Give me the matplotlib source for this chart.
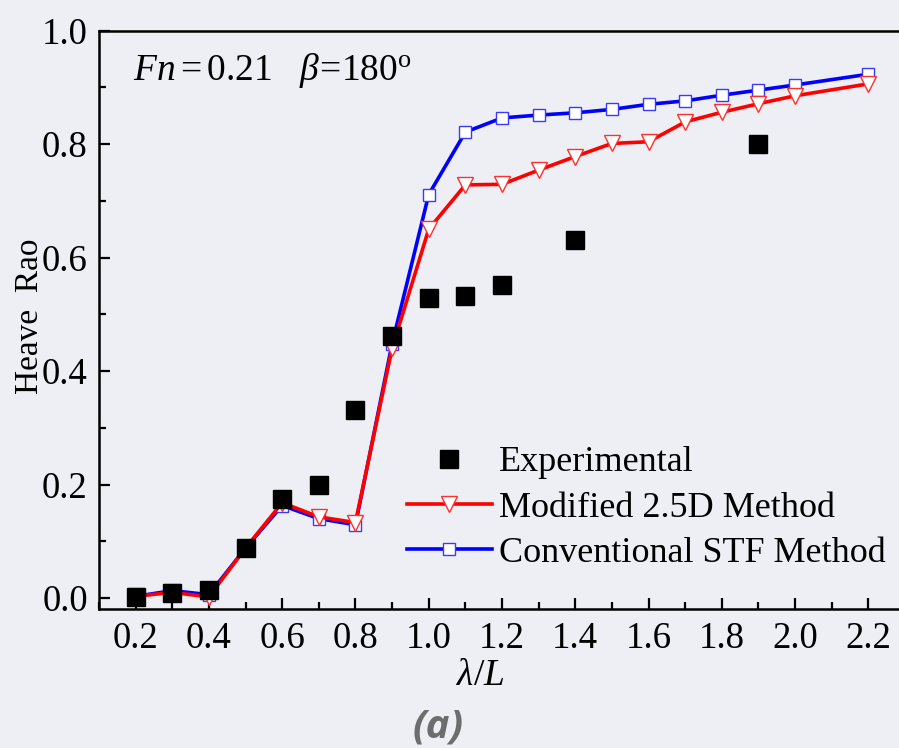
import matplotlib.pyplot as plt
from matplotlib.ticker import MultipleLocator

plt.rcParams['font.family'] = ['Liberation Serif', 'DejaVu Serif']
plt.rcParams['mathtext.fontset'] = 'custom'
plt.rcParams['mathtext.rm'] = 'Liberation Serif'
plt.rcParams['mathtext.it'] = 'Liberation Serif:italic'

# experimental points
x_exp = [0.2, 0.3, 0.4, 0.5, 0.6, 0.7, 0.8, 0.9, 1.0, 1.1, 1.2, 1.4, 1.9]
y_exp = [0.002, 0.009, 0.014, 0.088, 0.174, 0.199, 0.331, 0.462, 0.529, 0.532, 0.551, 0.631, 0.800]

# computed curves
x_calc = [0.2, 0.3, 0.4, 0.5, 0.6, 0.7, 0.8, 0.9, 1.0, 1.1, 1.2, 1.3, 1.4, 1.5, 1.6, 1.7, 1.8, 1.9, 2.0, 2.2]
y_mod = [0.003, 0.010, 0.002, 0.088, 0.168, 0.143, 0.133, 0.440, 0.650, 0.728, 0.729, 0.754, 0.778,
         0.801, 0.804, 0.839, 0.856, 0.871, 0.885, 0.906]
y_stf = [0.003, 0.013, 0.006, 0.088, 0.163, 0.140, 0.129, 0.448, 0.711, 0.821, 0.846, 0.851, 0.855,
         0.861, 0.870, 0.876, 0.886, 0.895, 0.904, 0.923]

bg = '#eeeff4'
fig = plt.figure(figsize=(8.99, 7.48), dpi=100, facecolor=bg)
ax = fig.add_axes([0.1101, 0.1853, 0.8966, 0.7739], facecolor=bg)

l_stf, = ax.plot(x_calc, y_stf, color='#0000ff', lw=2.6, marker='s', ms=8.5,
                 mfc='white', mec='#3a3aff', mew=1.0, label='Conventional STF Method', zorder=3)
l_mod, = ax.plot(x_calc, y_mod, color='#ff0000', lw=2.6, marker='v', ms=12,
                 mfc='white', mec='#ff3030', mew=1.0, label='Modified 2.5D Method', zorder=4)
l_exp, = ax.plot(x_exp, y_exp, ls='none', marker='s', ms=13.5, color='black',
                 label='Experimental', zorder=5)

ax.set_xlim(0.1, 2.3)
ax.set_ylim(-0.02, 1.0)
ax.xaxis.set_minor_locator(MultipleLocator(0.1))
ax.yaxis.set_minor_locator(MultipleLocator(0.1))
ax.set_xticks([0.2, 0.4, 0.6, 0.8, 1.0, 1.2, 1.4, 1.6, 1.8, 2.0, 2.2])
ax.set_yticks([0.0, 0.2, 0.4, 0.6, 0.8, 1.0])
ax.tick_params(which='both', direction='in', top=False, right=False, width=1.6,
               labelsize=26.5, colors='black')
ax.tick_params(axis='x', which='major', length=8, pad=9)
ax.tick_params(axis='y', which='major', length=8, pad=8)
ax.tick_params(which='minor', length=5)
for s in ax.spines.values():
    s.set_linewidth(1.8)

ax.set_xlabel(r'$\lambda/L$', fontsize=27)
ax.xaxis.label.set_va('center')
ax.xaxis.set_label_coords(0.4727, -0.115)
ax.set_ylabel('Heave  Rao', fontsize=24)
ax.yaxis.label.set_va('center')
ax.yaxis.set_label_coords(-0.0856, 0.507)

ax.text(0.0425, 0.914, r'$Fn = \mathrm{0.21}\quad \beta\!=\!\mathrm{180^o}$', transform=ax.transAxes,
        fontsize=27, va='baseline', ha='left')

ax.legend(handles=[l_exp, l_mod, l_stf], loc='center left',
          bbox_to_anchor=(407 / 899, 1 - 508 / 748), bbox_transform=fig.transFigure,
          frameon=False, fontsize=26, handlelength=2.35, handletextpad=0.2,
          labelspacing=0.33, borderpad=0, borderaxespad=0)

fig.text(438 / 899, 1 - 727 / 748, '(a)', fontfamily='Open Sans', fontweight='bold',
         fontstyle='italic', color='#6d6d6d', fontsize=29, ha='center', va='center')

fig.savefig('out.png', dpi=100, facecolor=bg)
